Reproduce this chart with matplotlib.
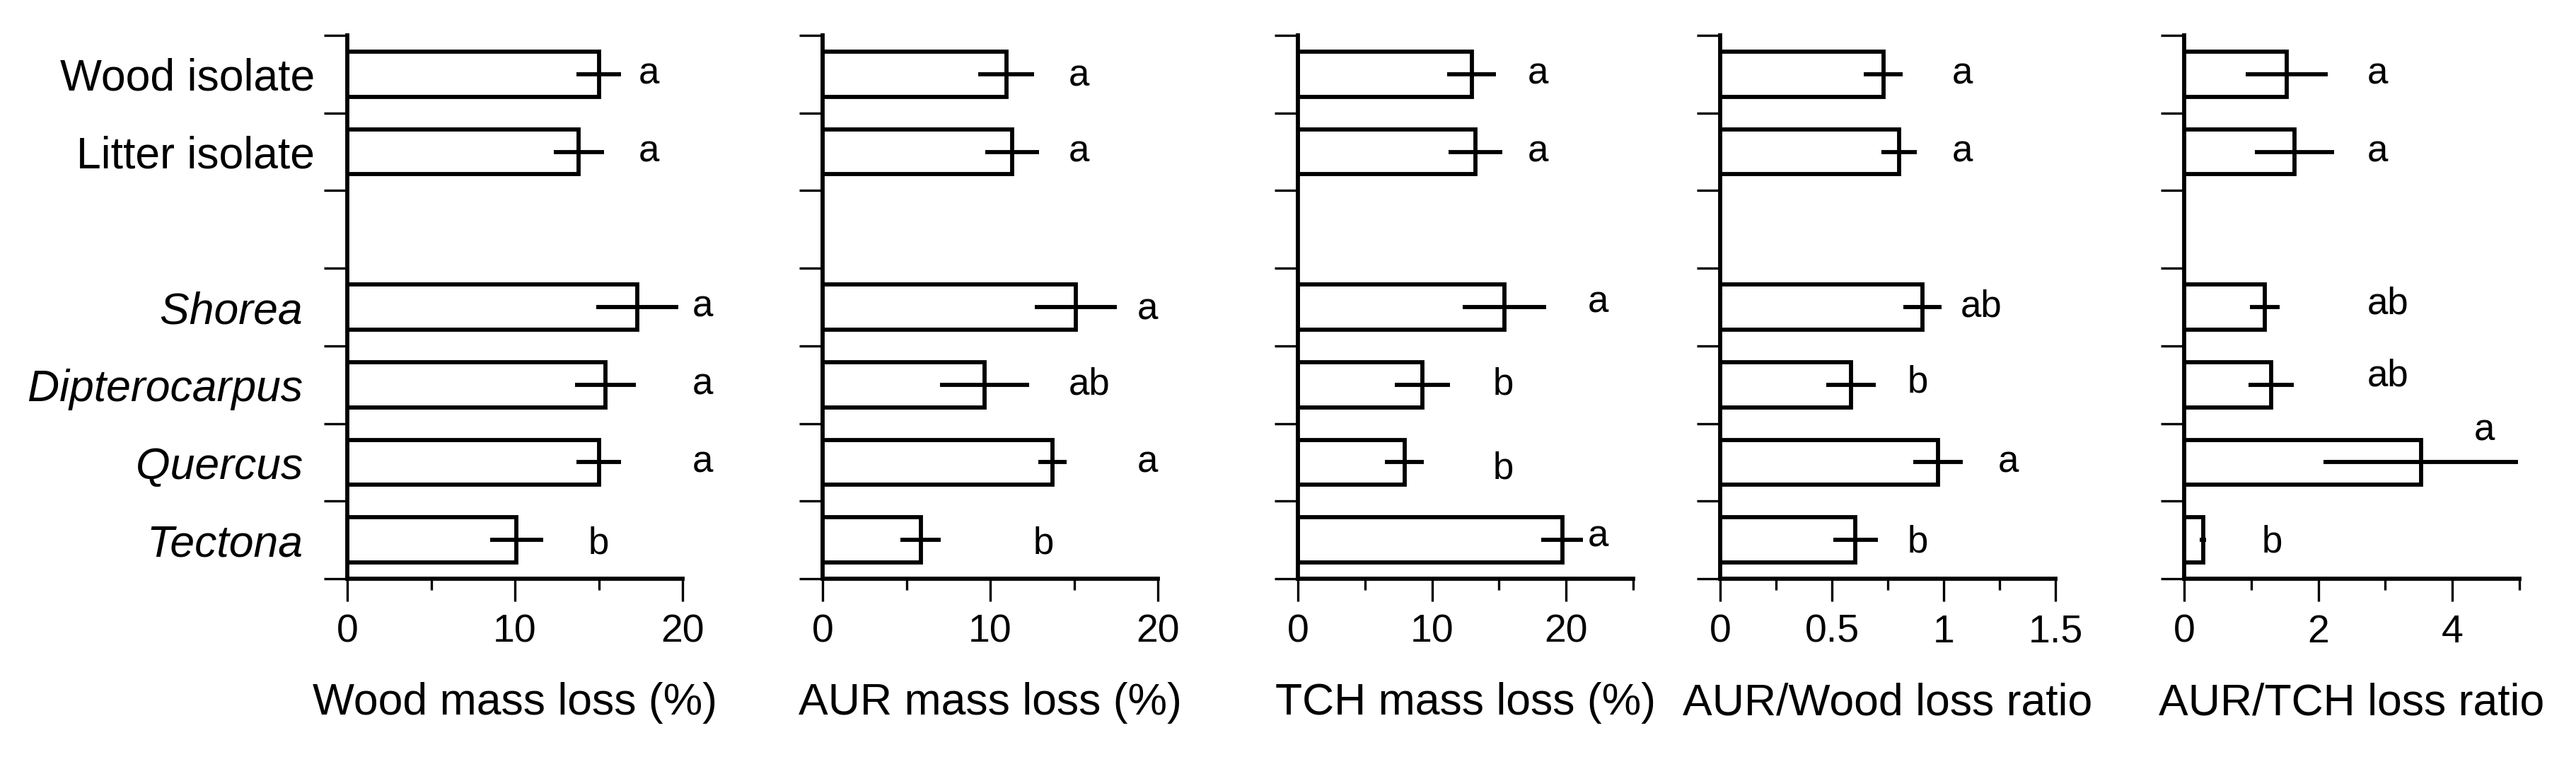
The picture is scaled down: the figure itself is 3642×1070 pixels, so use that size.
import numpy as np
import matplotlib
matplotlib.use("Agg")
import matplotlib.pyplot as plt
from matplotlib.ticker import FixedLocator, NullFormatter

plt.rcParams['font.family'] = ['Liberation Sans', 'DejaVu Sans']

# categorias (de arriba a abajo); hueco entre aislados y especies
categorias = ['Wood isolate', 'Litter isolate', '', 'Shorea', 'Dipterocarpus', 'Quercus', 'Tectona']
cursiva = [False, False, False, True, True, True, True]
filas = [0, 1, 3, 4, 5, 6]  # filas ocupadas por barras

# valores (media, error)
wood_loss = [15.0, 13.8, 17.3, 15.4, 15.0, 10.1]
wood_err = [1.35, 1.5, 2.45, 1.8, 1.35, 1.57]
wood_let = ['a', 'a', 'a', 'a', 'a', 'b']

aur_loss = [10.95, 11.3, 15.1, 9.65, 13.7, 5.85]
aur_err = [1.65, 1.6, 2.45, 2.65, 0.85, 1.2]
aur_let = ['a', 'a', 'a', 'ab', 'a', 'b']

tch_loss = [12.95, 13.25, 15.4, 9.3, 7.95, 19.7]
tch_err = [1.8, 2.0, 3.1, 2.05, 1.45, 1.57]
tch_let = ['a', 'a', 'a', 'b', 'b', 'a']

aw_ratio = [0.73, 0.80, 0.905, 0.585, 0.975, 0.605]
aw_err = [0.087, 0.08, 0.085, 0.11, 0.11, 0.10]
aw_let = ['a', 'a', 'ab', 'b', 'a', 'b']

at_ratio = [1.53, 1.65, 1.2, 1.3, 3.53, 0.28]
at_err = [0.61, 0.59, 0.22, 0.34, 1.45, 0.05]
at_let = ['a', 'a', 'ab', 'ab', 'a', 'b']

xlabels = ['Wood mass loss (%)', 'AUR mass loss (%)', 'TCH mass loss (%)',
           'AUR/Wood loss ratio', 'AUR/TCH loss ratio']

# posicion de las letras (x en unidades de datos, desplazamiento vertical en filas)
wood_let_x = [18.0, 18.0, 21.2, 21.2, 21.2, 15.0]
wood_let_dy = [0, 0, 0, 0, 0, -0.05]
aur_let_x = [15.3, 15.3, 19.4, 15.9, 19.4, 13.2]
aur_let_dy = [-0.02, 0, -0.03, 0, 0, -0.05]
tch_let_x = [17.9, 17.9, 22.4, 15.3, 15.3, 22.4]
tch_let_dy = [0, 0, 0.06, 0, -0.08, 0.04]
aw_let_x = [1.083, 1.083, 1.167, 0.885, 1.289, 0.885]
aw_let_dy = [0, 0, 0, 0.03, 0, -0.03]
at_let_x = [2.88, 2.88, 3.04, 3.04, 4.48, 1.31]
at_let_dy = [0, 0, 0.04, 0.11, 0.41, -0.03]

paneles = [
    (wood_loss, wood_err, wood_let, wood_let_x, wood_let_dy, 20, [0, 10, 20], [5, 15], ['0', '10', '20']),
    (aur_loss, aur_err, aur_let, aur_let_x, aur_let_dy, 20, [0, 10, 20], [5, 15], ['0', '10', '20']),
    (tch_loss, tch_err, tch_let, tch_let_x, tch_let_dy, 25, [0, 10, 20], [5, 15, 25], ['0', '10', '20']),
    (aw_ratio, aw_err, aw_let, aw_let_x, aw_let_dy, 1.5, [0, 0.5, 1, 1.5], [0.25, 0.75, 1.25], ['0', '0.5', '1', '1.5']),
    (at_ratio, at_err, at_let, at_let_x, at_let_dy, 5, [0, 2, 4], [1, 3, 5], ['0', '2', '4']),
]

W, H = 3642, 1070
fig = plt.figure(figsize=(W / 100, H / 100), dpi=100)
lw = 4.2
izq = [491, 1163, 1835, 2432, 3088]
ancho = 474
arriba, abajo = 50, 818

n = len(categorias)
y_fila = lambda i: n - 0.5 - i

for k, (vals, errs, lets, lx, ldy, xmax, mayores, menores, etiquetas) in enumerate(paneles):
    ax = fig.add_axes([izq[k] / W, 1 - abajo / H, ancho / W, (abajo - arriba) / H])
    ys = [y_fila(i) for i in filas]
    ax.barh(ys, vals, height=0.58, color='white', edgecolor='black', linewidth=lw, zorder=2)
    ax.errorbar(vals, ys, xerr=errs, fmt='none', ecolor='black', elinewidth=lw, capsize=0, zorder=3)
    for j in range(len(vals)):
        ax.text(lx[j], ys[j] + ldy[j], lets[j], ha='center', va='center', fontsize=38, clip_on=False)

    ax.set_xlim(0, xmax)
    ax.set_ylim(0, n)
    for s in ['top', 'right']:
        ax.spines[s].set_visible(False)
    for s in ['left', 'bottom']:
        ax.spines[s].set_linewidth(lw)

    ax.xaxis.set_major_locator(FixedLocator(mayores))
    ax.xaxis.set_minor_locator(FixedLocator(menores))
    ax.set_xticklabels(etiquetas)
    ax.tick_params(axis='x', which='major', length=23, width=2.4, labelsize=40, pad=13)
    ax.tick_params(axis='x', which='minor', length=11.5, width=2.4)

    # marcas en los limites de cada fila, etiquetas en el centro
    ax.yaxis.set_major_locator(FixedLocator(np.arange(n + 1)))
    ax.yaxis.set_major_formatter(NullFormatter())
    ax.yaxis.set_minor_locator(FixedLocator([y_fila(i) for i in range(n)]))
    ax.tick_params(axis='y', which='major', length=23.8, width=2.4)
    ax.tick_params(axis='y', which='minor', length=0, labelsize=45, pad=33)
    if k == 0:
        ax.set_yticklabels([c + ' ' if it else c for c, it in zip(categorias, cursiva)], minor=True)
        for t, it in zip(ax.get_yticklabels(minor=True), cursiva):
            if it:
                t.set_style('italic')
    else:
        ax.yaxis.set_minor_formatter(NullFormatter())

    ax.set_xlabel(xlabels[k], fontsize=45, labelpad=32)

fig.savefig('out.png', dpi=100)
